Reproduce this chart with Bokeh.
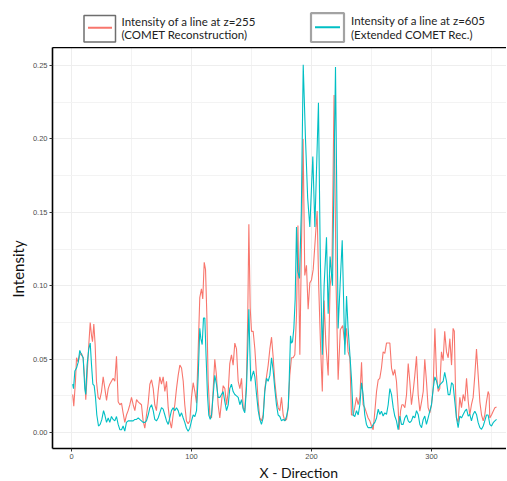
from bokeh.plotting import figure
from bokeh.models import (Range1d, LinearAxis, SingleIntervalTicker, FixedTicker,
                          Title, PrintfTickFormatter)
from bokeh.layouts import column
from bokeh.embed import file_html
from bokeh.resources import INLINE
from bokeh.core.properties import value

# ---------------- data ----------------
x_red = [1, 1.9, 3.3, 4.2, 5.6, 6.9, 8.3, 9.7, 11.1, 11.9, 13, 14.2, 15.6, 16.7, 17.5, 18.6, 19.7, 20.8,
         22.2, 23.6, 25, 26.4, 27.8, 29.2, 30.6, 31.9, 33.3, 34.7, 36.1, 37.5, 38.9, 40.3, 41.7, 43,
         44.4, 45.8, 47.2, 48.6, 50, 51.4, 52.8, 54.2, 55.6, 56.9, 58.3, 59.7, 61.1, 62.5, 63.9, 65.3,
         66.7, 68.1, 69.4, 70.8, 72.2, 73.6, 75, 76.4, 77.8, 79.2, 80.6, 81.9, 83.3, 84.7, 86.1, 87.5,
         88.9, 90.3, 91.7, 93.1, 94.4, 95.8, 97.2, 98.6, 100, 101.4, 102.8, 104.2, 105.6, 106.9, 108.3,
         109.4, 110.6, 111.7, 112.8, 113.9, 115.3, 116.7, 118.1, 119.4, 120.8, 122.2, 123.6, 125,
         126.4, 127.8, 129.2, 130.6, 131.9, 133.3, 134.7, 136.1, 137.5, 138.9, 140.3, 141.7, 143.1,
         144.4, 145.8, 146.9, 147.8, 148.9, 150, 151.4, 152.8, 154.2, 155.6, 156.9, 158.3, 159.7,
         161.1, 162.5, 163.9, 165.3, 166.7, 168.1, 169.4, 170.8, 172.2, 173.6, 175, 176.4, 177.8,
         179.2, 180.6, 181.9, 183.3, 184.7, 186.1, 187.5, 188.7, 190.3, 191.5, 193, 194.4, 195.8,
         197.2, 198.6, 200, 201.4, 203, 204.7, 206, 207.5, 209, 210.5, 212, 213.9, 215.5, 217, 218.8,
         220.5, 222.2, 224, 226, 227.8, 229.2, 230.5, 232, 233.3, 234.7, 236, 237.5, 238.9, 240.3,
         241.7, 243, 244.4, 245.8, 247.2, 248.6, 250, 251.4, 252.8, 254.2, 255.6, 256.9, 258.3, 259.7,
         261.1, 262.5, 263.9, 265.3, 266.7, 268.1, 269.4, 270.8, 272.2, 273, 274.2, 275.3, 276.4,
         277.8, 279.2, 280.6, 281.9, 283.3, 284.7, 286.1, 287.5, 288.9, 290.3, 291.7, 293.1, 294.4,
         295.8, 297.2, 298.6, 300, 301.4, 302.8, 304.2, 305.6, 306.9, 308.3, 309.7, 311, 312.5, 313.9,
         315.3, 316.7, 318, 319, 320, 320.8, 322.2, 323.6, 325, 326.4, 327.8, 329.2, 330.6, 331.9,
         333.3, 334.7, 336.1, 337.5, 338.9, 340.3, 341.7, 343.1, 344.4, 345.8, 347.2, 348, 348.6, 350,
         351.4, 352.8, 354.2]
y_red = [0.026, 0.018, 0.035, 0.051, 0.048, 0.053, 0.054, 0.051, 0.035, 0.0225, 0.039, 0.057, 0.075,
         0.066, 0.062, 0.074, 0.060, 0.035, 0.024, 0.0225, 0.028, 0.038, 0.030, 0.022, 0.030, 0.033,
         0.035, 0.037, 0.035, 0.052, 0.021, 0.019, 0.020, 0.0135, 0.007, 0.012, 0.015, 0.019, 0.024,
         0.019, 0.015, 0.0225, 0.021, 0.020, 0.019, 0.008, 0.003, 0.012, 0.020, 0.033, 0.036, 0.030,
         0.019, 0.015, 0.028, 0.038, 0.033, 0.038, 0.028, 0.035, 0.017, 0.008, 0.003, 0.012, 0.019,
         0.030, 0.039, 0.046, 0.044, 0.035, 0.019, 0.008, 0.006, 0.008, 0.024, 0.034, 0.028, 0.020,
         0.057, 0.092, 0.098, 0.091, 0.116, 0.111, 0.080, 0.035, 0.012, 0.010, 0.030, 0.050, 0.039,
         0.019, 0.010, 0.021, 0.032, 0.030, 0.019, 0.028, 0.047, 0.053, 0.046, 0.061, 0.057, 0.035,
         0.030, 0.037, 0.017, 0.015, 0.035, 0.080, 0.142, 0.085, 0.069, 0.069, 0.057, 0.039, 0.021,
         0.010, 0.008, 0.012, 0.030, 0.038, 0.046, 0.057, 0.065, 0.051, 0.035, 0.024, 0.017, 0.015,
         0.024, 0.012, 0.008, 0.009, 0.017, 0.039, 0.051, 0.051, 0.053, 0.080, 0.141, 0.053, 0.12,
         0.20, 0.107, 0.114, 0.084, 0.102, 0.104, 0.111, 0.13, 0.151, 0.10, 0.06, 0.028, 0.09, 0.06,
         0.039, 0.10, 0.11, 0.23, 0.10, 0.036, 0.07, 0.073, 0.06, 0.071, 0.055, 0.051, 0.012, 0.012,
         0.017, 0.024, 0.019, 0.024, 0.048, 0.019, 0.017, 0.0135, 0.010, 0.008, 0.0045, 0.002, 0.0146,
         0.028, 0.036, 0.037, 0.044, 0.055, 0.054, 0.061, 0.061, 0.061, 0.044, 0.039, 0.043, 0.035,
         0.017, 0.002, 0.0146, 0.019, 0.019, 0.017, 0.026, 0.047, 0.035, 0.019, 0.028, 0.039, 0.052,
         0.026, 0.0146, 0.021, 0.028, 0.050, 0.035, 0.017, 0.0135, 0.019, 0.030, 0.071, 0.039, 0.028,
         0.030, 0.055, 0.049, 0.069, 0.055, 0.051, 0.064, 0.046, 0.071, 0.069, 0.030, 0.010, 0.007,
         0.024, 0.017, 0.026, 0.0214, 0.037, 0.0214, 0.012, 0.019, 0.024, 0.039, 0.057, 0.039, 0.021,
         0.012, 0.008, 0.012, 0.021, 0.028, 0.026, 0.010, 0.012, 0.0146, 0.017, 0.0175]

x_cyan = [1, 1.7, 2.8, 4.2, 5.6, 6.9, 8.3, 9.7, 11.1, 11.9, 13, 14.4, 15.6, 16.7, 17.8, 18.9, 20, 21.1,
          22.5, 23.9, 25.3, 26.7, 27.8, 29.2, 30.6, 31.9, 33.3, 34.7, 36.1, 37.5, 38.9, 40.3, 41.7, 43,
          44.4, 45.8, 47.2, 48.6, 50, 51.4, 52.8, 54.2, 55.6, 56.9, 58.3, 59.7, 61.1, 62.5, 63.9, 65.3,
          66.7, 68.1, 69.4, 70.8, 72.2, 73.6, 75, 76.4, 77.8, 79.2, 80.6, 81.9, 83.3, 84.7, 86.1, 87.5,
          88.9, 90.3, 91.7, 93.1, 94.4, 95.8, 97.2, 98.6, 100, 101.4, 102.8, 104.2, 105.6, 106.9,
          107.8, 108.9, 110, 111.1, 112.2, 113.3, 114.4, 115.6, 116.7, 118.1, 119.4, 120.8, 122.2,
          123.6, 125, 126.4, 127.8, 129.2, 130.6, 131.9, 133.3, 134.7, 136.1, 137.5, 138.9, 140.3,
          141.7, 143.1, 144.4, 145.8, 146.9, 147.8, 148.6, 149.4, 150.6, 151.7, 152.8, 154.2, 155.6,
          156.9, 158.3, 159.7, 161.1, 162.5, 163.9, 165.3, 166.7, 168.1, 169.4, 170.8, 172.2, 173.6,
          175, 176.4, 177.8, 179.2, 180.6, 181.4, 182.5, 183.3, 184.2, 185.3, 186.4, 187.5, 188.5, 190,
          191.5, 193.1, 195, 196.8, 198.6, 201.1, 202.8, 205.8, 207.3, 209, 210.5, 212.5, 213.9, 215.5,
          217.5, 220, 222.2, 223.8, 225.6, 227.8, 229.2, 230.5, 232, 233.3, 234.7, 236.1, 237.5, 238.9,
          240.3, 241.7, 243, 244.4, 245.8, 247.2, 248.6, 250, 251.4, 252.8, 254.2, 255.6, 256.9, 258.3,
          259.7, 261.1, 262.5, 263.9, 265.3, 266.7, 268.1, 269.4, 270.8, 272.2, 273.6, 275, 276.4,
          277.8, 279.2, 280.6, 281.9, 283.3, 284.7, 286.1, 287.5, 288.9, 290.3, 291.7, 293.1, 294.4,
          295.8, 297.2, 298.6, 300, 301.4, 302.8, 304.2, 305.6, 306.9, 308.3, 309.7, 311, 312.5, 313.9,
          315.3, 316.7, 318, 319.4, 320.8, 322.2, 323.6, 325, 326.4, 327.8, 329.2, 330.6, 331.9, 333.3,
          334.7, 336.1, 337.5, 338.9, 340.3, 341.7, 343.1, 344.4, 345.8, 347.2, 348.6, 350, 351.4,
          352.8, 354.2]
y_cyan = [0.033, 0.030, 0.042, 0.044, 0.048, 0.056, 0.053, 0.051, 0.030, 0.026, 0.046, 0.057, 0.061,
          0.046, 0.033, 0.032, 0.024, 0.012, 0.0045, 0.0056, 0.009, 0.015, 0.012, 0.007, 0.010, 0.007,
          0.011, 0.009, 0.008, 0.011, 0.0056, 0.002, 0.002, 0.0045, 0.001, 0.007, 0.008, 0.008, 0.008,
          0.008, 0.009, 0.009, 0.010, 0.009, 0.008, 0.007, 0.007, 0.008, 0.012, 0.017, 0.019, 0.015,
          0.009, 0.008, 0.010, 0.0135, 0.017, 0.016, 0.012, 0.008, 0.0056, 0.010, 0.015, 0.017, 0.015,
          0.017, 0.015, 0.011, 0.0135, 0.010, 0.007, 0.003, 0.001, 0.003, 0.008, 0.012, 0.011, 0.015,
          0.039, 0.071, 0.064, 0.060, 0.078, 0.078, 0.051, 0.026, 0.012, 0.009, 0.012, 0.026, 0.039,
          0.033, 0.024, 0.024, 0.026, 0.028, 0.021, 0.015, 0.019, 0.030, 0.033, 0.028, 0.026, 0.025,
          0.024, 0.019, 0.0225, 0.016, 0.0135, 0.030, 0.057, 0.084, 0.057, 0.035, 0.039, 0.042, 0.038,
          0.026, 0.015, 0.009, 0.0056, 0.010, 0.028, 0.037, 0.035, 0.039, 0.051, 0.042, 0.030, 0.019,
          0.012, 0.011, 0.008, 0.009, 0.008, 0.011, 0.017, 0.035, 0.066, 0.061, 0.062, 0.071, 0.091,
          0.14, 0.11, 0.105, 0.15, 0.2505, 0.20, 0.16, 0.14, 0.188, 0.14, 0.2246, 0.12, 0.053, 0.10,
          0.133, 0.081, 0.12, 0.10, 0.249, 0.071, 0.10, 0.131, 0.053, 0.093, 0.071, 0.053, 0.037, 0.012,
          0.011, 0.015, 0.012, 0.019, 0.034, 0.026, 0.012, 0.0056, 0.0034, 0.0034, 0.0034, 0.0056,
          0.007, 0.010, 0.016, 0.0124, 0.0146, 0.0113, 0.0135, 0.0124, 0.019, 0.030, 0.0259, 0.017,
          0.0113, 0.008, 0.002, 0.0113, 0.0056, 0.0056, 0.010, 0.012, 0.008, 0.0068, 0.008, 0.0113,
          0.010, 0.015, 0.0124, 0.0056, 0.0034, 0.009, 0.0113, 0.0056, 0.010, 0.0146, 0.019, 0.030,
          0.038, 0.035, 0.030, 0.0326, 0.0338, 0.035, 0.041, 0.035, 0.0259, 0.0259, 0.034, 0.0327,
          0.0214, 0.010, 0.0034, 0.0113, 0.010, 0.0124, 0.0146, 0.016, 0.0113, 0.0124, 0.008, 0.0124,
          0.0146, 0.0124, 0.0068, 0.0034, 0.0023, 0.0045, 0.008, 0.012, 0.012, 0.0056, 0.0045, 0.0068,
          0.008, 0.009]

legend_line1 = ["Intensity of a line at z=255", "Intensity of a line at z=605"]
legend_line2 = ["(COMET Reconstruction)", "(Extended COMET Rec.)"]
x_title = "X - Direction"
y_title = "Intensity"

RED = "#F8766D"
CYAN = "#00BFC4"
FONT = "Lato"

W = 506
LEG_H = 47
MAIN_H = 433

# ---------------- legend strip (pixel coordinates, aligned with plot frame) ----------------
leg = figure(width=W, height=LEG_H, x_range=Range1d(52, W), y_range=Range1d(LEG_H, 0),
             x_axis_type=None, y_axis_type=None, toolbar_location=None,
             output_backend="svg", min_border_left=52, min_border_right=0,
             min_border_top=0, min_border_bottom=0)
leg.outline_line_color = None
leg.grid.visible = False
leg.quad(left=[83.5, 310.5], right=[115, 343.5], top=[15, 12.7], bottom=[41.5, 41.5],
         fill_color="white", line_color=["#6e6e6e", "#a3a3a3"], line_width=[1.5, 2.2])
leg.segment(x0=[87.5, 314.5], y0=[27.3, 26.8], x1=[111.5, 339.5], y1=[27.3, 26.8],
            line_color=[RED, CYAN], line_width=2)
leg.text(x=[121, 350.5], y=[20.7, 20.2], text=legend_line1, text_font=value(FONT),
         text_font_size="11.5px", text_baseline="middle", text_color="#222222")
leg.text(x=[121, 350.5], y=[34.2, 33.8], text=legend_line2, text_font=value(FONT),
         text_font_size="11.5px", text_baseline="middle", text_color="#222222")

# ---------------- main plot ----------------
p = figure(width=W, height=MAIN_H, x_range=Range1d(-15.83, 362.5),
           y_range=Range1d(-0.0108, 0.2623), toolbar_location=None,
           output_backend="svg", min_border_left=52, min_border_right=0,
           min_border_top=0, min_border_bottom=29)
p.outline_line_color = None

p.line(x_red, y_red, line_color=RED, line_width=1.1)
p.line(x_cyan, y_cyan, line_color=CYAN, line_width=1.1)

p.xaxis.ticker = SingleIntervalTicker(interval=100, num_minor_ticks=2)
p.yaxis.ticker = SingleIntervalTicker(interval=0.05, num_minor_ticks=2)
p.yaxis.formatter = PrintfTickFormatter(format="%.2f")
for ax in (p.xaxis, p.yaxis):
    ax.axis_line_color = "black"
    ax.axis_line_width = 1.6
    ax.major_tick_out = 3
    ax.major_tick_in = 0
    ax.major_tick_line_color = "#333333"
    ax.minor_tick_out = 0
    ax.minor_tick_in = 0
    ax.major_label_text_font = "Liberation Sans"
    ax.major_label_text_font_size = "7.5px"
    ax.major_label_text_color = "#4d4d4d"
    ax.major_label_standoff = 2

top_axis = LinearAxis(ticker=FixedTicker(ticks=[]), axis_line_color="black",
                      axis_line_width=1.6, major_tick_out=0, major_tick_in=0,
                      minor_tick_out=0, minor_tick_in=0,
                      major_label_text_font_size="0px")
p.add_layout(top_axis, "above")

p.xgrid.grid_line_color = "#ececec"
p.ygrid.grid_line_color = "#ececec"
p.xgrid.minor_grid_line_color = "#f3f3f3"
p.ygrid.minor_grid_line_color = "#f3f3f3"
p.xgrid.grid_line_width = 0.8
p.ygrid.grid_line_width = 0.8

# axis titles: with align left/right the offset acts as a margin from the frame edge
p.add_layout(Title(text=y_title, align="left", offset=151, standoff=6,
                   text_font=FONT, text_font_size="15px", text_font_style="normal",
                   text_color="#111111"), "left")
p.add_layout(Title(text=x_title, align="left", offset=207, standoff=0,
                   text_font=FONT, text_font_size="14px", text_font_style="normal",
                   text_color="#111111"), "below")

layout = column(leg, p, spacing=0)
open("out.html", "w").write(file_html(layout, INLINE))
